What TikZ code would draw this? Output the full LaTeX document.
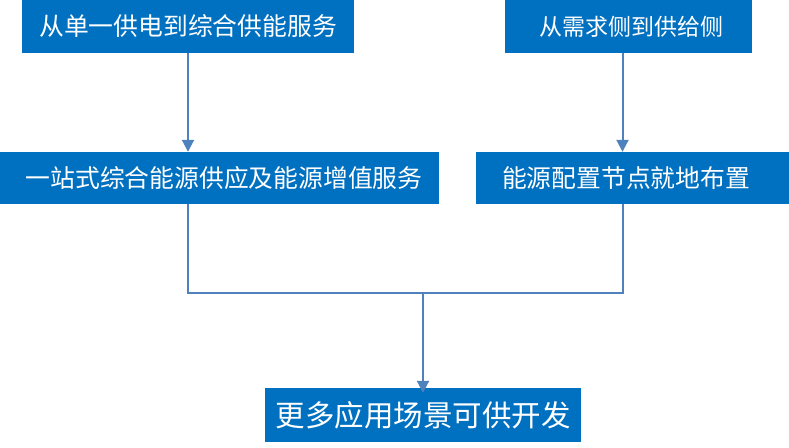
\documentclass[tikz,border=0pt]{standalone}
\usepackage{fontspec}
\setmainfont{Noto Sans CJK SC}
\usepackage{xcolor}
\definecolor{boxblue}{RGB}{0,112,192}
\definecolor{linkblue}{RGB}{79,129,189}
\usetikzlibrary{arrows.meta,positioning,calc}

\begin{document}
\begin{tikzpicture}[x=1pt,y=-1pt,>={Triangle[width=12pt,length=12pt]},
  box/.style={fill=boxblue,text=white,inner sep=0pt,font=\fontsize{24.8}{28}\selectfont},
  link/.style={linkblue,line width=2pt}]
\useasboundingbox (0,0) rectangle (789,447);
\node[box,minimum width=332pt,minimum height=53pt] (b1) at (188,26.5) {从单一供电到综合供能服务};
\node[box,minimum width=247pt,minimum height=53pt,font=\fontsize{23}{26}\selectfont] (b2) at (628.5,26.5) {\hspace*{5pt}从需求侧到供给侧};
\node[box,minimum width=439pt,minimum height=52pt] (b3) at (219.5,178) {\hspace*{9pt}一站式综合能源供应及能源增值服务};
\node[box,minimum height=52pt,text width=261pt,inner xsep=26pt,align=left] (b4) at (632.5,178) {能源配置节点就地布置};
\node[box,minimum width=316pt,minimum height=54pt,font=\fontsize{29.5}{33}\selectfont] (b5) at (423,415) {更多应用场景可供开发};
\coordinate (c1) at (b1.south);
\coordinate (c2) at ([xshift=-6pt]b2.south);
\coordinate (j) at (b5.north |- 0,293);
\draw[link,->] (c1) -- (c1 |- b3.north);
\draw[link,->] (c2) -- (c2 |- b4.north);
\draw[link] (c1 |- b3.south) |- (j) -| (c2 |- b4.south);
\draw[link,->] (j) -- ([yshift=-5pt]b5.north);
\end{tikzpicture}
\end{document}
